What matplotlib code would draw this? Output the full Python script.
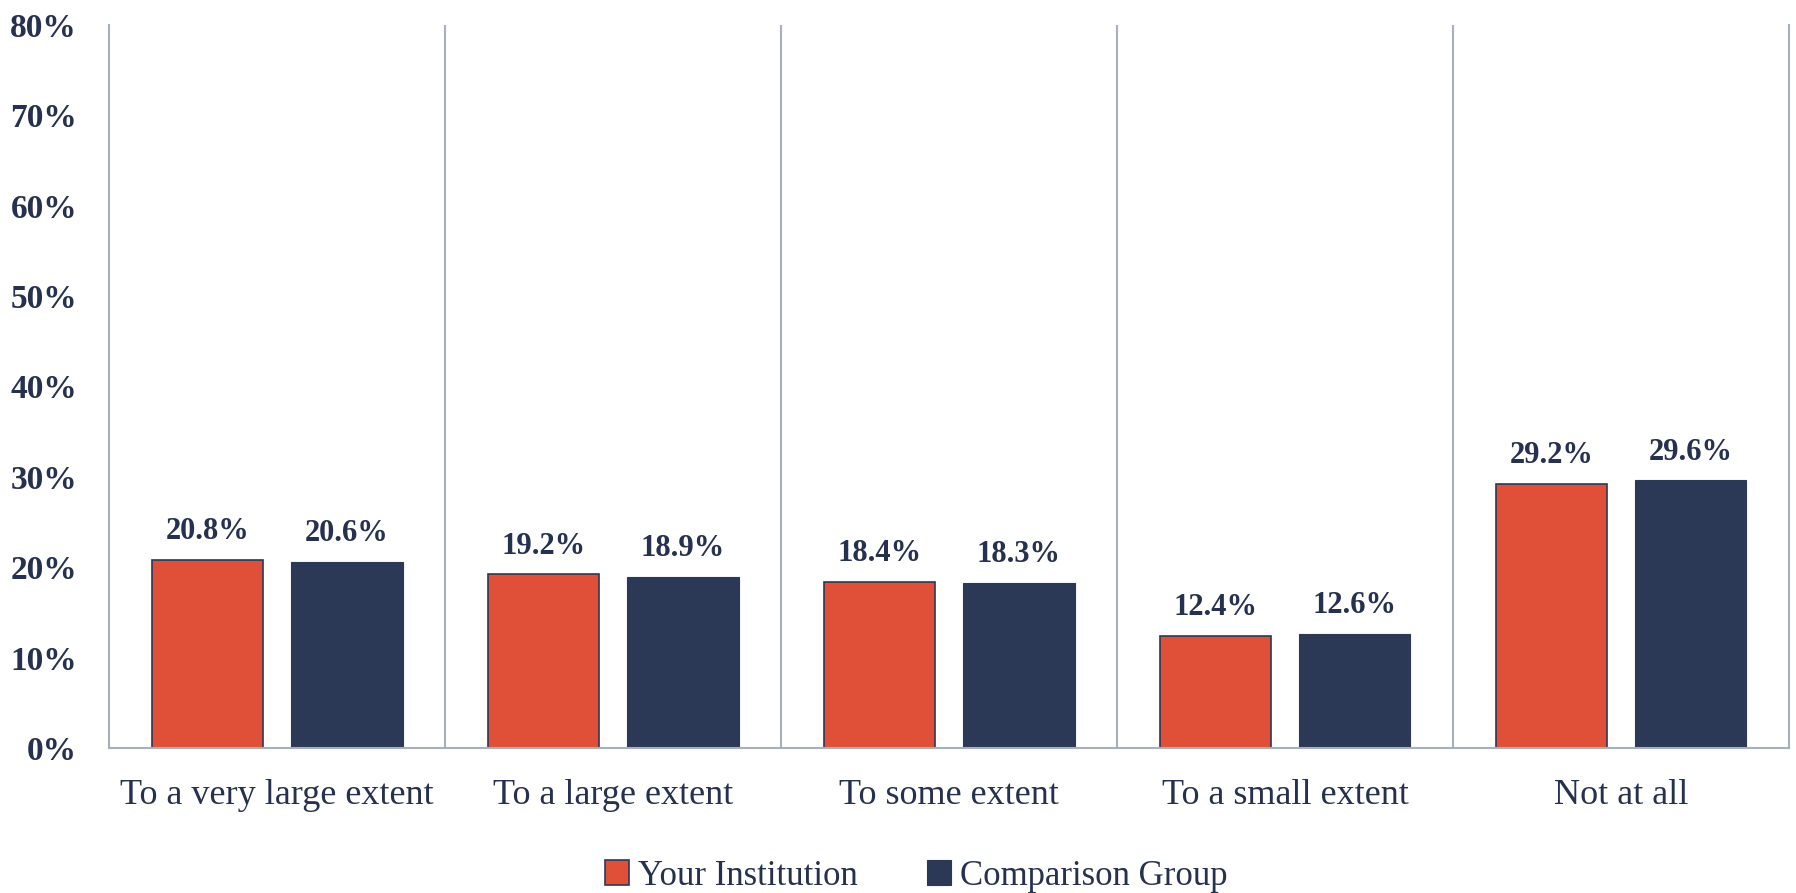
import matplotlib.pyplot as plt
import numpy as np

# data
categories = ["To a very large extent", "To a large extent", "To some extent",
              "To a small extent", "Not at all"]
your_institution = [0.208, 0.192, 0.184, 0.124, 0.292]
comparison_group = [0.206, 0.189, 0.183, 0.126, 0.296]
yticks = [0, 0.1, 0.2, 0.3, 0.4, 0.5, 0.6, 0.7, 0.8]

red = "#E05038"
navy = "#2B3856"
text_col = "#26304F"
grid_col = "#A7B1BE"

plt.rcParams['font.family'] = ['Liberation Serif', 'DejaVu Serif']

fig, ax = plt.subplots(figsize=(17.96, 8.93), dpi=100)
fig.subplots_adjust(left=0.0607, right=0.9961, top=0.972, bottom=0.1624)

x = np.arange(len(categories))
w = 0.333
off = 0.207
b1 = ax.bar(x - off, your_institution, w, color=red, edgecolor=navy, linewidth=1.2,
            label="Your Institution")
b2 = ax.bar(x + off, comparison_group, w, color=navy, edgecolor=navy, linewidth=0.8,
            label="Comparison Group")

# value labels
for bars, vals in [(b1, your_institution), (b2, comparison_group)]:
    for rect, v in zip(bars, vals):
        ax.annotate(f"{v*100:.1f}%", (rect.get_x() + rect.get_width() / 2, v),
                    xytext=(0, 10), textcoords="offset points",
                    ha="center", va="bottom", fontsize=22, fontweight="bold",
                    color=text_col)

# category separators
for s in np.arange(0.5, len(categories) - 0.5, 1):
    ax.axvline(s, color=grid_col, linewidth=1.5, zorder=0)

ax.set_xlim(-0.5, len(categories) - 0.5)
ax.set_ylim(0, 0.8)
ax.set_yticks(yticks)
ax.set_yticklabels([f"{int(round(t*100))}%" for t in yticks])
ax.set_xticks(x)
ax.set_xticklabels(categories)

ax.tick_params(axis="y", length=0, pad=23, labelsize=24, labelcolor=text_col)
for lab in ax.get_yticklabels():
    lab.set_fontweight("bold")
ax.tick_params(axis="x", length=0, pad=22, labelsize=26, labelcolor=text_col)

ax.spines["top"].set_visible(False)
for sp in ["left", "right", "bottom"]:
    ax.spines[sp].set_color(grid_col)
    ax.spines[sp].set_linewidth(1.5)

fig.legend(loc="center", bbox_to_anchor=(0.51, 0.019), ncol=2, frameon=False,
           fontsize=25, labelcolor=text_col, handlelength=0.7, handleheight=0.7,
           handletextpad=0.25, columnspacing=2.0)

fig.savefig("out.png", dpi=100)
